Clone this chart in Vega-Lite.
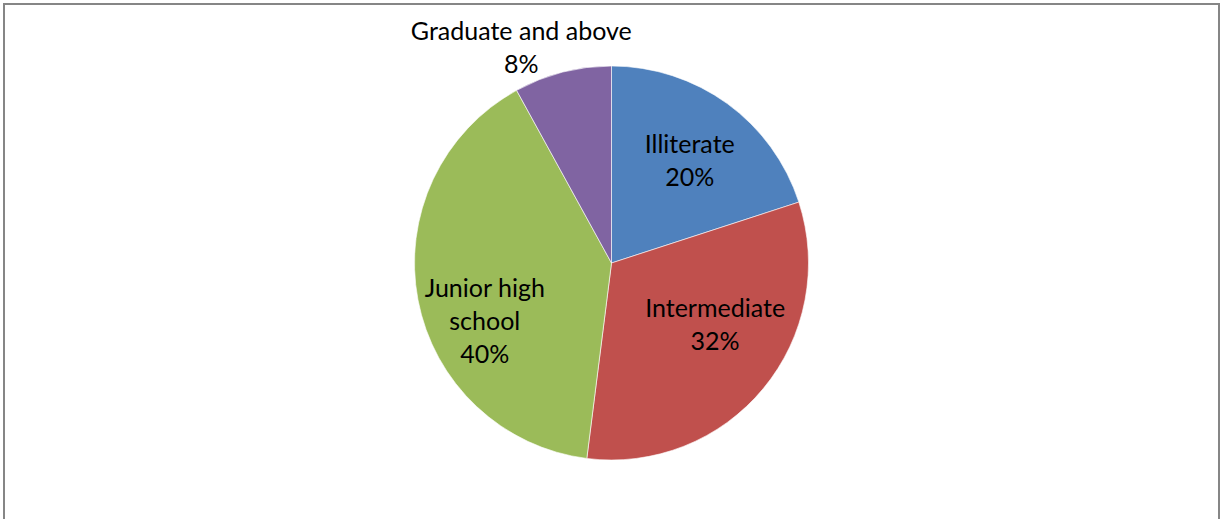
{
  "$schema": "https://vega.github.io/schema/vega-lite/v6.json",
  "width": 1215,
  "height": 518,
  "autosize": {"type": "none"},
  "padding": {"left": 4, "top": 4, "right": 2, "bottom": 0},
  "background": "white",
  "view": {"stroke": "#868686", "strokeWidth": 2},
  "data": {
    "values": [
      {"idx": 1, "cat": "Illiterate", "value": 20, "label": "Illiterate\n20%"},
      {"idx": 2, "cat": "Intermediate", "value": 32, "label": "Intermediate\n32%"},
      {"idx": 3, "cat": "Junior high school", "value": 40, "label": "Junior high\nschool\n40%"},
      {"idx": 4, "cat": "Graduate and above", "value": 8, "label": "Graduate and above\n8%"}
    ]
  },
  "encoding": {
    "theta": {"field": "value", "type": "quantitative", "stack": true},
    "order": {"field": "idx", "type": "quantitative"}
  },
  "layer": [
    {
      "mark": {"type": "arc", "outerRadius": 197, "stroke": "white", "strokeWidth": 0.6},
      "encoding": {
        "color": {
          "field": "cat",
          "type": "nominal",
          "scale": {
            "domain": ["Illiterate", "Intermediate", "Junior high school", "Graduate and above"],
            "range": ["#4F81BD", "#C0504D", "#9BBB59", "#8064A2"]
          },
          "legend": null
        }
      }
    },
    {
      "mark": {"type": "text", "radius": 128, "font": "Lato", "fontSize": 25, "lineBreak": "\n", "lineHeight": 33, "align": "center", "baseline": "middle", "color": "#000000", "dx": 3, "dy": -14},
      "encoding": {"text": {"condition": {"test": "datum.cat !== 'Illiterate'", "value": ""}, "field": "label"}}
    },
    {
      "mark": {"type": "text", "radius": 128, "font": "Lato", "fontSize": 25, "lineBreak": "\n", "lineHeight": 33, "align": "center", "baseline": "middle", "color": "#000000", "dx": 5, "dy": -36},
      "encoding": {"text": {"condition": {"test": "datum.cat !== 'Intermediate'", "value": ""}, "field": "label"}}
    },
    {
      "mark": {"type": "text", "radius": 128, "font": "Lato", "fontSize": 25, "lineBreak": "\n", "lineHeight": 33, "align": "center", "baseline": "middle", "color": "#000000", "dx": -1, "dy": 2},
      "encoding": {"text": {"condition": {"test": "datum.cat !== 'Junior high school'", "value": ""}, "field": "label"}}
    },
    {
      "mark": {"type": "text", "radius": 234, "font": "Lato", "fontSize": 25, "lineBreak": "\n", "lineHeight": 33, "align": "center", "baseline": "middle", "color": "#000000", "dx": -32, "dy": -4},
      "encoding": {"text": {"condition": {"test": "datum.cat !== 'Graduate and above'", "value": ""}, "field": "label"}}
    }
  ]
}
